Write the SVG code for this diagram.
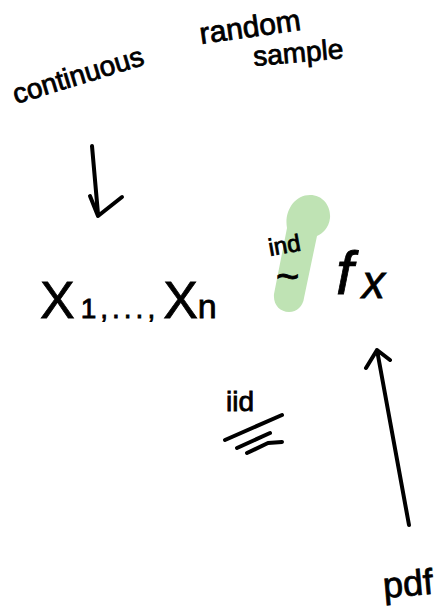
<svg xmlns="http://www.w3.org/2000/svg" width="447" height="608" viewBox="0 0 447 608">
<style>
.t{font-family:"Liberation Sans","DejaVu Sans",sans-serif;fill:#000;stroke:#000;stroke-width:0.8}
.ink{fill:none;stroke:#000;stroke-width:4;stroke-linecap:round;stroke-linejoin:round}
</style>
<rect width="447" height="608" fill="#fff"/>
<g id="highlight">
<path d="M289,312 C280,312 273,305 274,294 L287,228 C284,212 294,195 310,195 C323,195 331,206 330,218 C329,228 322,234 317,236 L304,298 C303,306 297,312 289,312 Z" fill="#bfe3b4"/>
</g>
<g id="continuous"><text class="t" x="16" y="104" font-size="28" transform="rotate(-17 16 104)">continuous</text></g>
<g id="random-sample">
<text class="t" x="201" y="44" font-size="30" transform="rotate(-8 201 44)">random</text>
<text class="t" x="254" y="66" font-size="28" transform="rotate(-5 254 66)">sample</text>
</g>
<g id="sample-vars"><text class="t" x="40" y="318" font-size="52">X<tspan font-size="28" dx="6" letter-spacing="4">1,...,</tspan><tspan dx="4">X</tspan><tspan font-size="34">n</tspan></text></g>
<g id="ind-tilde">
<text class="t" x="270" y="256" font-size="24" transform="rotate(-10 270 256)">ind</text>
<text class="t" x="276" y="290" font-size="40">~</text>
</g>
<g id="fx">
<text class="t" x="336" y="294" font-size="62" font-style="italic">f</text>
<text class="t" x="362" y="298" font-size="46" font-style="italic">x</text>
</g>
<g id="iid">
<text class="t" x="226" y="411" font-size="28">iid</text>
<path class="ink" d="M225,440 L282,415 M237,448 L270,433 M247,453 L268,443 L282,442"/>
</g>
<g id="pdf"><text class="t" x="384" y="598" font-size="36" transform="rotate(-5 384 598)">pdf</text></g>
<g id="connectors">
<path class="ink" d="M92,146 L98,214 M90,196 L98,216 L122,197"/>
<path class="ink" d="M409,525 L377,350 M366,368 L377,350 L390,360"/>
</g>
</svg>
